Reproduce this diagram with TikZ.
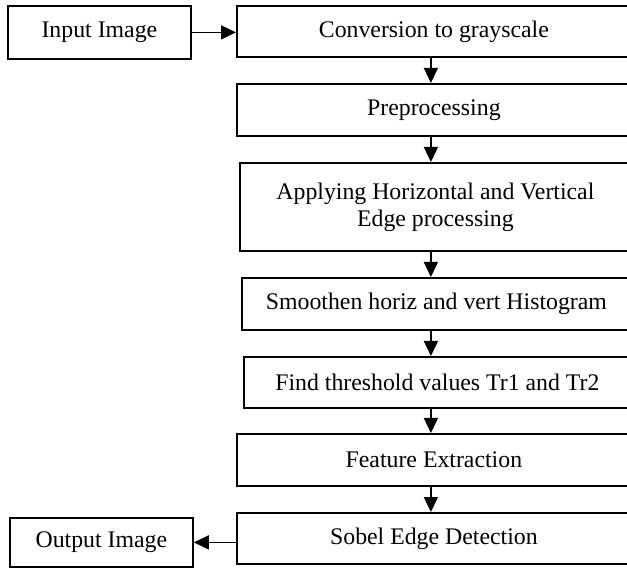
\documentclass[tikz,border=0pt]{standalone}
\usepackage{fontspec}
\setmainfont{Liberation Serif}
\usetikzlibrary{arrows.meta, positioning}

\begin{document}
\begin{tikzpicture}[
    x=1pt, y=-1pt,
    font=\fontsize{23.8}{27}\selectfont,
    stage/.style={draw, line width=1.8pt, anchor=north west, align=center,
                  inner sep=0pt},
    arr/.style={-{Triangle[length=15pt, width=14pt]}, line width=1.3pt},
]
    \useasboundingbox (0,0) rectangle (627,569);

    %==================== INPUT / OUTPUT ====================
    \node[stage, minimum width=183pt, minimum height=53pt] (inp) at (7,5) {Input Image};
    \node[stage, minimum width=183pt, minimum height=49pt] (outp) at (9,517) {Output Image};

    %==================== PIPELINE ====================
    \node[stage, minimum width=394pt, minimum height=51pt] (conv) at (236,5)
        {Conversion to grayscale};
    \node[stage, minimum width=394pt, minimum height=52pt] (prep) at (236,83)
        {Preprocessing};
    \node[stage, minimum width=391pt, minimum height=88pt] (edge) at (239,162)
        {Applying Horizontal and Vertical\\Edge processing};
    \node[stage, minimum width=389pt, minimum height=52pt] (hist) at (241,277)
        {Smoothen horiz and vert Histogram};
    \node[stage, minimum width=387pt, minimum height=51pt] (thr) at (243,356)
        {Find threshold values Tr1 and Tr2};
    \node[stage, minimum width=394pt, minimum height=52pt] (feat) at (236,433)
        {Feature Extraction};
    \node[stage, minimum width=394pt, minimum height=51pt] (sob) at (236,512)
        {Sobel Edge Detection};

    %==================== CONNECTORS ====================
    \draw[arr] (inp.east) -- (conv.west |- inp.east);
    \foreach \a/\b in {conv/prep, prep/edge, edge/hist, hist/thr, thr/feat, feat/sob}
        \draw[arr] ([xshift=-3pt]\a.south -| conv.south) -- ([xshift=-3pt]\b.north -| conv.south);
    \draw[arr] (sob.west |- outp.east) -- (outp.east);

\end{tikzpicture}
\end{document}
